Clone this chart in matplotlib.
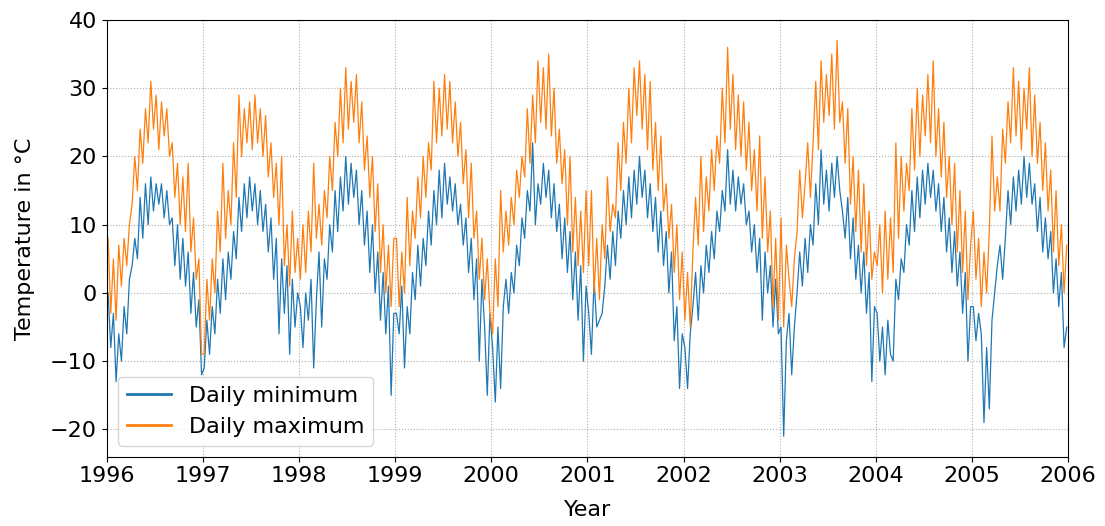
import numpy as np
import matplotlib.pyplot as plt

# daily extremes sampled every ~10 days (36 per year), one row per year 1996..2005
start_year = 1996
per_year = 36

tmax = [
    8, -3, 5, -4, 7, 1, 8, 4, 10, 13, 20, 15, 24, 19, 27, 22, 31, 24, 29, 21, 28, 23, 27, 20, 22, 14, 19, 10, 17, 9, 19, 6, 11, 2, 5, -9,
    -9, 2, -4, 5, 0, 12, 6, 19, 8, 15, 10, 22, 14, 29, 20, 27, 22, 28, 21, 29, 22, 27, 20, 26, 17, 22, 14, 19, 10, 20, 4, 10, 1, 12, 3, 8,
    2, 10, 3, 12, 6, 19, 8, 13, 7, 15, 11, 20, 15, 25, 20, 30, 22, 33, 24, 31, 25, 32, 22, 28, 18, 23, 14, 20, 9, 16, 3, 10, 0, 7, -2, 8,
    8, -2, 6, 0, 14, 4, 12, 8, 17, 11, 20, 14, 22, 18, 31, 22, 30, 23, 32, 24, 31, 22, 28, 20, 25, 16, 21, 11, 19, 8, 12, 2, 8, -1, 5, -3,
    -6, 5, -2, 15, 6, 12, 7, 14, 10, 18, 14, 20, 17, 27, 19, 29, 22, 34, 25, 33, 24, 35, 23, 30, 19, 24, 16, 21, 10, 20, 6, 14, 4, 12, 3, 15,
    4, 15, 0, 8, -1, 10, 5, 17, 9, 13, 11, 22, 15, 25, 19, 30, 22, 33, 26, 34, 24, 32, 21, 31, 18, 25, 15, 23, 12, 16, 8, 13, 3, 10, -1, 6,
    -4, 3, -5, 6, 14, 7, 20, 9, 17, 12, 21, 15, 23, 19, 30, 22, 36, 24, 32, 21, 29, 20, 28, 18, 25, 15, 21, 12, 23, 8, 17, 6, 12, -2, 8, -4,
    11, -5, 7, 2, -2, 5, 9, 18, 11, 16, 22, 14, 22, 31, 21, 34, 25, 32, 26, 35, 24, 37, 25, 28, 19, 27, 13, 20, 9, 18, 6, 16, 4, 12, 2, 6,
    4, 10, 0, 12, 2, 11, 3, 22, 8, 20, 12, 19, 15, 27, 18, 30, 20, 29, 23, 32, 22, 34, 20, 27, 17, 25, 14, 20, 10, 19, 6, 15, 3, 12, -1, 7,
    12, 2, 8, -2, 6, 0, 9, 23, 12, 17, 12, 24, 19, 28, 22, 33, 23, 31, 21, 30, 24, 33, 20, 29, 19, 25, 15, 22, 12, 18, 6, 15, 4, 10, 0, 7,
]

tmin = [
    0, -8, -3, -13, -6, -10, -2, -6, 2, 4, 8, 5, 14, 8, 16, 10, 17, 12, 16, 13, 16, 11, 15, 10, 11, 4, 10, 2, 8, 1, 6, -3, 3, -5, -1, -12,
    -11, -4, -9, -2, -6, 2, -3, 5, -1, 6, 2, 9, 5, 14, 9, 16, 11, 17, 12, 16, 10, 15, 9, 13, 6, 11, 2, 8, -6, 5, -3, 4, -9, 2, -5, 0,
    -2, -8, 0, -4, 2, -11, -1, 6, -5, 5, 2, 10, 6, 15, 9, 17, 12, 20, 13, 19, 14, 18, 10, 15, 7, 12, 3, 10, 0, 6, -4, 3, -6, 1, -15, -3,
    -3, -6, 1, -11, -2, -6, 3, -1, 7, 1, 8, 4, 12, 7, 15, 10, 18, 11, 19, 13, 17, 12, 16, 10, 13, 7, 11, 3, 8, -1, 5, -10, 2, -5, -15, -3,
    -8, -16, -5, -14, -2, 2, -3, 3, 0, 7, 4, 11, 8, 15, 12, 22, 10, 16, 13, 19, 14, 18, 11, 16, 9, 13, 5, 11, 3, 9, -1, 6, -4, 4, -10, 1,
    -3, -9, 2, -5, -4, -3, 1, 7, 2, 9, 4, 12, 8, 15, 10, 17, 11, 18, 13, 20, 14, 18, 11, 16, 9, 14, 6, 12, 4, 9, 0, 6, -7, -2, -14, -6,
    -8, -14, -6, -2, 3, -4, 4, 0, 7, 3, 9, 5, 12, 9, 15, 12, 21, 13, 18, 12, 17, 13, 16, 10, 12, 6, 10, 3, 8, -4, 6, 0, 4, -5, 2, -6,
    -5, -21, -7, -3, -12, -5, 0, 6, 1, 8, 3, 10, 7, 16, 10, 21, 13, 18, 12, 19, 14, 20, 15, 12, 8, 14, 5, 11, 2, 7, 0, 6, -3, 3, -13, -2,
    -3, -10, -5, -12, -4, -9, -10, 2, -1, 5, 3, 10, 7, 15, 9, 17, 11, 18, 13, 19, 14, 18, 12, 16, 9, 14, 6, 11, 3, 9, 1, 6, -3, 3, -10, -2,
    -2, -7, -3, -6, -19, -8, -17, -4, 0, 4, 7, 2, 8, 15, 10, 17, 12, 18, 13, 20, 14, 19, 13, 16, 9, 14, 6, 11, 5, 9, 0, 5, -2, 3, -8, -5,
]

year_ticks = list(range(1996, 2007))
temp_ticks = [-20, -10, 0, 10, 20, 30, 40]

t = start_year + (np.arange(len(tmax)) + 0.5) / per_year

plt.rcParams['font.size'] = 16
fig = plt.figure(figsize=(11.05, 5.26), dpi=100)
ax = fig.add_axes([0.0966, 0.1318, 0.87, 0.8302])

ax.plot(t, tmin, color='#1f77b4', lw=0.9, label='Daily minimum')
ax.plot(t, tmax, color='#ff7f0e', lw=0.9, label='Daily maximum')

ax.set_xlim(1996, 2006)
ax.set_ylim(-24, 40)
ax.set_xticks(year_ticks)
ax.set_yticks(temp_ticks)
ax.set_xlabel('Year', labelpad=10)
ax.set_ylabel('Temperature in °C', labelpad=11)
ax.grid(linestyle=':', color='#b0b0b0')

leg = ax.legend(loc='lower left', fontsize=16)
for line in leg.get_lines():
    line.set_linewidth(2)

fig.savefig('out.png', dpi=100)
